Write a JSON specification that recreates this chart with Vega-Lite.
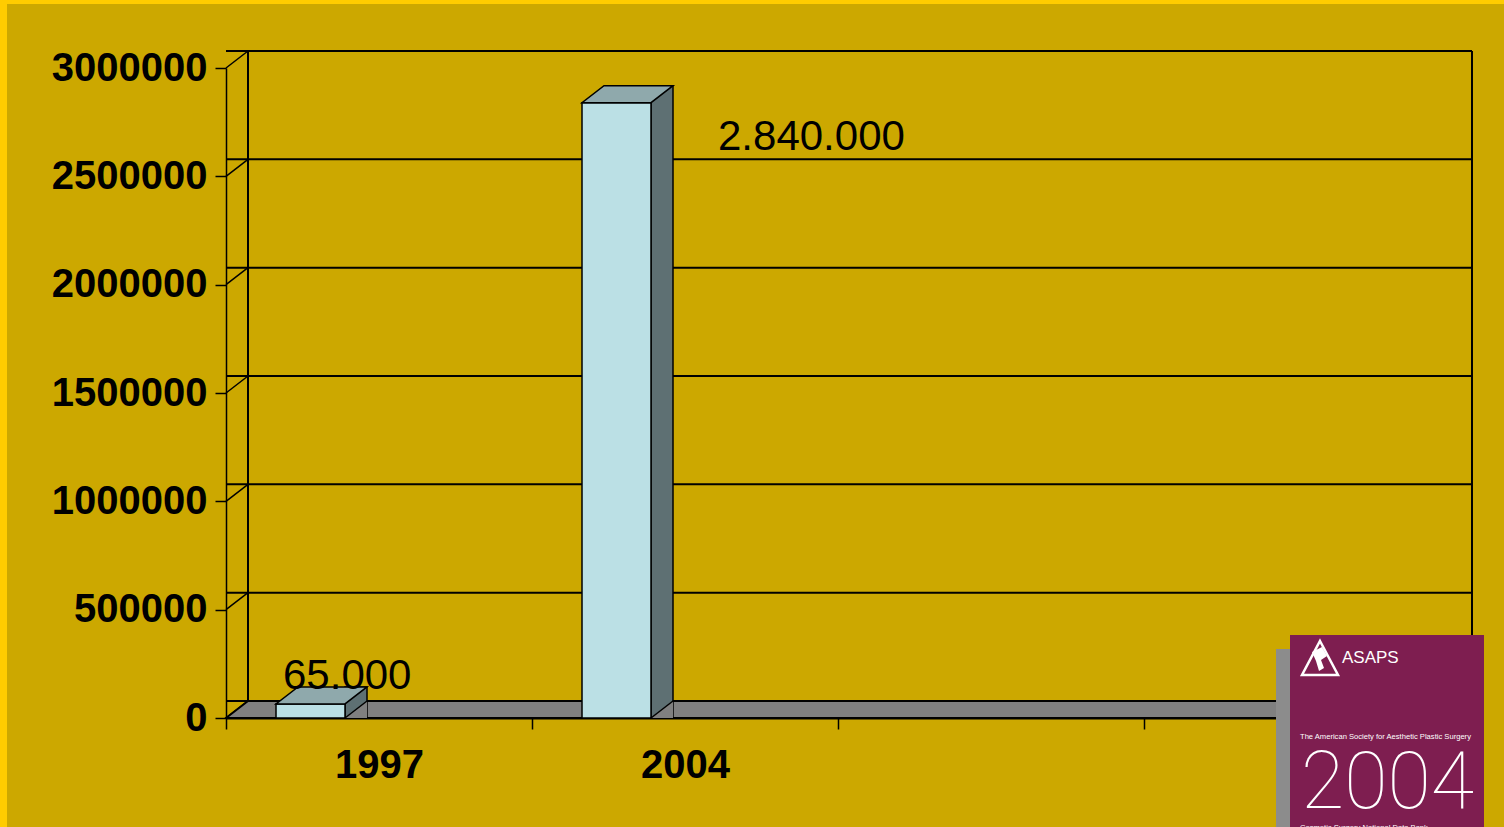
{
  "$schema": "https://vega.github.io/schema/vega-lite/v6.json",
  "width": 1224,
  "height": 650,
  "autosize": {"type": "none"},
  "padding": {"left": 226, "top": 68, "right": 54, "bottom": 109},
  "background": "#CCA800",
  "config": {"view": {"stroke": null}, "font": "Liberation Sans"},
  "data": {"values": [
    {"year": "1997", "value": 65000, "label": "65.000"},
    {"year": "2004", "value": 2840000, "label": "2.840.000"}
  ]},
  "layer": [
    {
      "data": {"values": [{"a": 1}]},
      "mark": {"type": "point", "shape": "M-226,-718L1278,-718L1278,-714L-226,-714Z M-226,-718L-219,-718L-219,109L-226,109Z", "size": 4, "filled": true, "fill": "#FFCC00", "strokeWidth": 0, "opacity": 1},
      "encoding": {
        "x": {"datum": "1997", "type": "nominal", "bandPosition": 0, "scale": {"domain": ["1997", "2004", "_c", "_d"], "paddingInner": 0, "paddingOuter": 0}},
        "y": {"datum": 0, "type": "quantitative", "scale": {"domain": [0, 3000000], "nice": false}}
      }
    },
    {
      "data": {"values": [{"t": 0}, {"t": 500000}, {"t": 1000000}, {"t": 1500000}, {"t": 2000000}, {"t": 2500000}, {"t": 3000000}]},
      "mark": {"type": "rule", "xOffset": 22, "x2Offset": 22, "yOffset": -17, "stroke": "black", "strokeWidth": 2},
      "encoding": {
        "y": {"field": "t", "type": "quantitative", "scale": {"domain": [0, 3000000], "nice": false}}
      }
    },
    {
      "data": {"values": [{"t": 0}, {"t": 500000}, {"t": 1000000}, {"t": 1500000}, {"t": 2000000}, {"t": 2500000}, {"t": 3000000}]},
      "mark": {"type": "point", "shape": "M0,0L22,-17", "size": 4, "filled": false, "color": "black", "strokeWidth": 1.5, "opacity": 1},
      "encoding": {
        "x": {"datum": "1997", "type": "nominal", "bandPosition": 0, "scale": {"domain": ["1997", "2004", "_c", "_d"], "paddingInner": 0, "paddingOuter": 0}},
        "y": {"field": "t", "type": "quantitative", "scale": {"domain": [0, 3000000], "nice": false}}
      }
    },
    {
      "data": {"values": [{"a": 1}]},
      "mark": {"type": "rule", "xOffset": 22, "yOffset": -17, "y2Offset": -17, "stroke": "black", "strokeWidth": 2},
      "encoding": {
        "x": {"datum": "1997", "type": "nominal", "bandPosition": 0, "scale": {"domain": ["1997", "2004", "_c", "_d"], "paddingInner": 0, "paddingOuter": 0}},
        "y": {"datum": 0, "type": "quantitative", "scale": {"domain": [0, 3000000], "nice": false}},
        "y2": {"datum": 3000000}
      }
    },
    {
      "data": {"values": [{"a": 1}]},
      "mark": {"type": "rule", "xOffset": 22, "yOffset": -17, "y2Offset": -17, "stroke": "black", "strokeWidth": 2},
      "encoding": {
        "x": {"datum": "_d", "type": "nominal", "bandPosition": 1, "scale": {"domain": ["1997", "2004", "_c", "_d"], "paddingInner": 0, "paddingOuter": 0}},
        "y": {"datum": 0, "type": "quantitative", "scale": {"domain": [0, 3000000], "nice": false}},
        "y2": {"datum": 3000000}
      }
    },
    {
      "data": {"values": [{"a": 1}]},
      "mark": {"type": "point", "shape": "M0,0L1224,0L1246,-17L22,-17Z", "size": 4, "filled": true, "fill": "#808080", "stroke": "black", "strokeWidth": 2, "opacity": 1},
      "encoding": {
        "x": {"datum": "1997", "type": "nominal", "bandPosition": 0, "scale": {"domain": ["1997", "2004", "_c", "_d"], "paddingInner": 0, "paddingOuter": 0}},
        "y": {"datum": 0, "type": "quantitative", "scale": {"domain": [0, 3000000], "nice": false}}
      }
    },
    {
      "mark": {"type": "bar", "width": 22, "xOffset": -23, "yOffset": -17, "fill": "#5E7073", "stroke": "black", "strokeWidth": 1.5},
      "encoding": {
        "x": {"field": "year", "type": "nominal", "scale": {"domain": ["1997", "2004", "_c", "_d"], "paddingInner": 0, "paddingOuter": 0}},
        "y": {"field": "value", "type": "quantitative", "scale": {"domain": [0, 3000000], "nice": false}},
        "y2": {"datum": 0}
      }
    },
    {
      "mark": {"type": "bar", "width": 69, "xOffset": -68.5, "fill": "#BBE0E5", "stroke": "black", "strokeWidth": 1.5},
      "encoding": {
        "x": {"field": "year", "type": "nominal", "scale": {"domain": ["1997", "2004", "_c", "_d"], "paddingInner": 0, "paddingOuter": 0},
          "axis": {"title": null, "labelAngle": 0, "labelAlign": "center", "labelBaseline": "top", "tickBand": "extent", "labelExpr": "substring(datum.label,0,1)=='_' ? '' : datum.label", "domainColor": "black", "domainWidth": 2, "tickColor": "black", "tickWidth": 1.5, "tickSize": 11, "labelFont": "Liberation Sans", "labelFontSize": 40, "labelFontWeight": "bold", "labelColor": "black", "labelPadding": 16, "grid": false}},
        "y": {"field": "value", "type": "quantitative", "scale": {"domain": [0, 3000000], "nice": false},
          "axis": {"values": [0, 500000, 1000000, 1500000, 2000000, 2500000, 3000000], "format": "d", "title": null, "grid": false, "domainColor": "black", "domainWidth": 1.5, "tickColor": "black", "tickWidth": 1.5, "tickSize": 11, "labelFont": "Liberation Sans", "labelFontSize": 40, "labelFontWeight": "bold", "labelColor": "black", "labelPadding": 8}},
        "y2": {"datum": 0}
      }
    },
    {
      "mark": {"type": "point", "shape": "M-103,0L-34,0L-12,-17L-81,-17Z", "size": 4, "filled": true, "fill": "#8FA9AC", "stroke": "black", "strokeWidth": 1.5, "opacity": 1},
      "encoding": {
        "x": {"field": "year", "type": "nominal", "scale": {"domain": ["1997", "2004", "_c", "_d"], "paddingInner": 0, "paddingOuter": 0}},
        "y": {"field": "value", "type": "quantitative", "scale": {"domain": [0, 3000000], "nice": false}}
      }
    },
    {
      "mark": {"type": "point", "shape": "M-34,0L-12,0L-12,-17Z", "size": 4, "filled": true, "fill": "#808080", "strokeWidth": 0, "opacity": 1},
      "encoding": {
        "x": {"field": "year", "type": "nominal", "scale": {"domain": ["1997", "2004", "_c", "_d"], "paddingInner": 0, "paddingOuter": 0}},
        "y": {"datum": 0, "type": "quantitative", "scale": {"domain": [0, 3000000], "nice": false}}
      }
    },
    {
      "mark": {"type": "point", "shape": "M-34,0L-12,-17", "size": 4, "filled": false, "color": "black", "strokeWidth": 1.5, "opacity": 1},
      "encoding": {
        "x": {"field": "year", "type": "nominal", "scale": {"domain": ["1997", "2004", "_c", "_d"], "paddingInner": 0, "paddingOuter": 0}},
        "y": {"datum": 0, "type": "quantitative", "scale": {"domain": [0, 3000000], "nice": false}}
      }
    },
    {
      "transform": [{"filter": "datum.year == '1997'"}],
      "mark": {"type": "text", "align": "left", "baseline": "alphabetic", "dx": -96, "dy": -15, "font": "Liberation Sans", "fontSize": 42, "color": "black"},
      "encoding": {
        "x": {"field": "year", "type": "nominal", "scale": {"domain": ["1997", "2004", "_c", "_d"], "paddingInner": 0, "paddingOuter": 0}},
        "y": {"field": "value", "type": "quantitative", "scale": {"domain": [0, 3000000], "nice": false}},
        "text": {"field": "label"}
      }
    },
    {
      "transform": [{"filter": "datum.year == '2004'"}],
      "mark": {"type": "text", "align": "left", "baseline": "alphabetic", "dx": 33, "dy": 47, "font": "Liberation Sans", "fontSize": 42, "color": "black"},
      "encoding": {
        "x": {"field": "year", "type": "nominal", "scale": {"domain": ["1997", "2004", "_c", "_d"], "paddingInner": 0, "paddingOuter": 0}},
        "y": {"field": "value", "type": "quantitative", "scale": {"domain": [0, 3000000], "nice": false}},
        "text": {"field": "label"}
      }
    },
    {
      "data": {"values": [{"a": 1}]},
      "mark": {"type": "point", "shape": "M-174,-69L-160,-69L-160,109L-174,109Z", "size": 4, "filled": true, "fill": "#8C8C8C", "strokeWidth": 0, "opacity": 1},
      "encoding": {
        "x": {"datum": "_d", "type": "nominal", "bandPosition": 1, "scale": {"domain": ["1997", "2004", "_c", "_d"], "paddingInner": 0, "paddingOuter": 0}},
        "y": {"datum": 0, "type": "quantitative", "scale": {"domain": [0, 3000000], "nice": false}}
      }
    },
    {
      "data": {"values": [{"a": 1}]},
      "mark": {"type": "point", "shape": "M-160,-83L34,-83L34,109L-160,109Z", "size": 4, "filled": true, "fill": "#7E1E50", "strokeWidth": 0, "opacity": 1},
      "encoding": {
        "x": {"datum": "_d", "type": "nominal", "bandPosition": 1, "scale": {"domain": ["1997", "2004", "_c", "_d"], "paddingInner": 0, "paddingOuter": 0}},
        "y": {"datum": 0, "type": "quantitative", "scale": {"domain": [0, 3000000], "nice": false}}
      }
    },
    {
      "data": {"values": [{"a": 1}]},
      "mark": {"type": "point", "shape": "M-130,-77L-112,-43L-148,-43Z", "size": 4, "filled": false, "color": "white", "strokeWidth": 2.5, "opacity": 1},
      "encoding": {
        "x": {"datum": "_d", "type": "nominal", "bandPosition": 1, "scale": {"domain": ["1997", "2004", "_c", "_d"], "paddingInner": 0, "paddingOuter": 0}},
        "y": {"datum": 0, "type": "quantitative", "scale": {"domain": [0, 3000000], "nice": false}}
      }
    },
    {
      "data": {"values": [{"a": 1}]},
      "mark": {"type": "point", "shape": "M-138,-66L-128,-71L-123,-62L-129,-58L-126,-50L-131,-47L-134,-57Z", "size": 4, "filled": true, "fill": "white", "strokeWidth": 0, "opacity": 1},
      "encoding": {
        "x": {"datum": "_d", "type": "nominal", "bandPosition": 1, "scale": {"domain": ["1997", "2004", "_c", "_d"], "paddingInner": 0, "paddingOuter": 0}},
        "y": {"datum": 0, "type": "quantitative", "scale": {"domain": [0, 3000000], "nice": false}}
      }
    },
    {
      "data": {"values": [{"t": "ASAPS"}]},
      "mark": {"type": "text", "align": "left", "baseline": "alphabetic", "dx": -108, "dy": -55, "font": "Liberation Sans", "fontSize": 17, "color": "white"},
      "encoding": {
        "x": {"datum": "_d", "type": "nominal", "bandPosition": 1, "scale": {"domain": ["1997", "2004", "_c", "_d"], "paddingInner": 0, "paddingOuter": 0}},
        "y": {"datum": 0, "type": "quantitative", "scale": {"domain": [0, 3000000], "nice": false}},
        "text": {"field": "t"}
      }
    },
    {
      "data": {"values": [{"t": "The American Society for Aesthetic Plastic Surgery"}]},
      "mark": {"type": "text", "align": "left", "baseline": "alphabetic", "dx": -150, "dy": 21, "font": "Liberation Sans", "fontSize": 7.6, "color": "white"},
      "encoding": {
        "x": {"datum": "_d", "type": "nominal", "bandPosition": 1, "scale": {"domain": ["1997", "2004", "_c", "_d"], "paddingInner": 0, "paddingOuter": 0}},
        "y": {"datum": 0, "type": "quantitative", "scale": {"domain": [0, 3000000], "nice": false}},
        "text": {"field": "t"}
      }
    },
    {
      "data": {"values": [{"t": "2004"}]},
      "mark": {"type": "text", "align": "left", "baseline": "alphabetic", "dx": -149, "dy": 90, "font": "Roboto", "fontWeight": 100, "fontSize": 79, "color": "white"},
      "encoding": {
        "x": {"datum": "_d", "type": "nominal", "bandPosition": 1, "scale": {"domain": ["1997", "2004", "_c", "_d"], "paddingInner": 0, "paddingOuter": 0}},
        "y": {"datum": 0, "type": "quantitative", "scale": {"domain": [0, 3000000], "nice": false}},
        "text": {"field": "t"}
      }
    },
    {
      "data": {"values": [{"t": "Cosmetic Surgery National Data Bank"}]},
      "mark": {"type": "text", "align": "left", "baseline": "alphabetic", "dx": -150, "dy": 112, "font": "Liberation Sans", "fontSize": 7.6, "color": "white"},
      "encoding": {
        "x": {"datum": "_d", "type": "nominal", "bandPosition": 1, "scale": {"domain": ["1997", "2004", "_c", "_d"], "paddingInner": 0, "paddingOuter": 0}},
        "y": {"datum": 0, "type": "quantitative", "scale": {"domain": [0, 3000000], "nice": false}},
        "text": {"field": "t"}
      }
    }
  ]
}
